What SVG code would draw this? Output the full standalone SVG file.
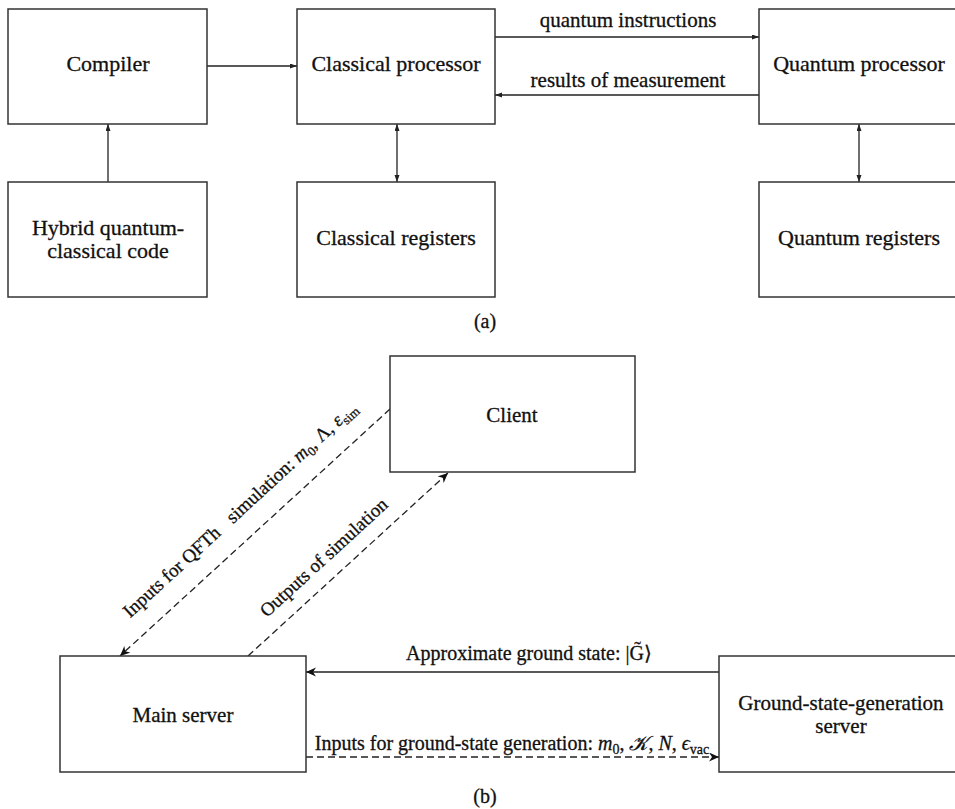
<svg xmlns="http://www.w3.org/2000/svg" width="955" height="809" viewBox="0 0 955 809">
<defs>
<style>
.box{fill:#fff;stroke:#333;stroke-width:1.5}
.t{font-family:"Liberation Serif","Times New Roman",serif;fill:#111;stroke:#111;stroke-width:0.3}
.n{font-size:22px;text-anchor:middle}
.nb{font-size:21px;text-anchor:middle}
.l{font-size:21px;text-anchor:middle}
.b{font-size:20px;text-anchor:middle}
.c{stroke:#222;stroke-width:1.3;fill:none}
.d{stroke-dasharray:7 4}
</style>
<marker id="tri" markerUnits="userSpaceOnUse" markerWidth="9" markerHeight="7" refX="7" refY="2.5" orient="auto-start-reverse">
<path d="M0,0 L7,2.5 L0,5 z" fill="#222"/>
</marker>
<marker id="stealth" markerUnits="userSpaceOnUse" markerWidth="12" markerHeight="10" refX="10" refY="4.5" orient="auto">
<path d="M0,0 L10,4.5 L0,9 L3,4.5 z" fill="#111"/>
</marker>
</defs>
<rect width="955" height="809" fill="#fff"/>

<g id="connectors">
<path class="c" d="M207,66 H297" marker-end="url(#tri)"/>
<path class="c" d="M108,182 V124" marker-end="url(#tri)"/>
<path class="c" d="M397,124 V182" marker-start="url(#tri)" marker-end="url(#tri)"/>
<path class="c" d="M859,124 V182" marker-start="url(#tri)" marker-end="url(#tri)"/>
<path class="c" d="M495,37 H759" marker-end="url(#tri)"/>
<path class="c" d="M759,95 H495" marker-end="url(#tri)"/>
<text class="t l" x="628" y="27">quantum instructions</text>
<text class="t l" x="628" y="87">results of measurement</text>

<path class="c d" d="M390,409 L120,656" stroke-width="1.6" marker-end="url(#stealth)"/>
<path class="c d" d="M248,656 L448,473" stroke-width="1.6" marker-end="url(#stealth)"/>
<path class="c" d="M719,672 H306" stroke-width="1.5" marker-end="url(#stealth)"/>
<path class="c d" d="M306,757 H719" stroke-width="1.5" marker-end="url(#stealth)"/>
<g transform="translate(244,514) rotate(-42.5)">
<text class="t" font-size="19" text-anchor="middle" x="0" y="0">Inputs for QFTh<tspan dx="15">simulation: </tspan><tspan font-style="italic">m</tspan><tspan dy="4" font-size="13">0</tspan><tspan dy="-4">, Λ, </tspan><tspan font-style="italic">ε</tspan><tspan dy="4" font-size="13">sim</tspan></text>
</g>
<g transform="translate(328,562) rotate(-42.5)">
<text class="t" font-size="19" text-anchor="middle" x="0" y="0">Outputs of simulation</text>
</g>
<text class="t b" x="529" y="660">Approximate ground state: |G̃⟩</text>
<text class="t b" x="512" y="750">Inputs for ground-state generation: <tspan font-style="italic">m</tspan><tspan dy="4" font-size="14">0</tspan><tspan dy="-4">, </tspan><tspan font-style="italic">𝒦</tspan>, <tspan font-style="italic">N</tspan>, <tspan font-style="italic">ϵ</tspan><tspan dy="4" font-size="14">vac</tspan></text>
</g>

<g id="compiler"><rect class="box" x="8" y="9" width="199" height="115"/><text class="t n" x="108" y="71">Compiler</text></g>
<g id="classical-processor"><rect class="box" x="297" y="9" width="198" height="115"/><text class="t n" x="396" y="71">Classical processor</text></g>
<g id="quantum-processor"><rect class="box" x="759" y="9" width="200" height="115"/><text class="t n" x="859" y="71">Quantum processor</text></g>
<g id="hybrid-code"><rect class="box" x="8" y="182" width="199" height="115"/><text class="t n" x="108" y="235">Hybrid quantum-</text><text class="t n" x="108" y="258">classical code</text></g>
<g id="classical-registers"><rect class="box" x="297" y="182" width="198" height="115"/><text class="t n" x="396" y="245">Classical registers</text></g>
<g id="quantum-registers"><rect class="box" x="759" y="182" width="200" height="115"/><text class="t n" x="859" y="245">Quantum registers</text></g>
<text class="t b" x="485" y="328">(a)</text>

<g id="client"><rect class="box" x="390" y="356" width="245" height="116"/><text class="t nb" x="512" y="422">Client</text></g>
<g id="main-server"><rect class="box" x="60" y="656" width="246" height="116"/><text class="t nb" x="183" y="722">Main server</text></g>
<g id="ground-state-server"><rect class="box" x="719" y="656" width="240" height="116"/><text class="t nb" x="841" y="710">Ground-state-generation</text><text class="t nb" x="841" y="733">server</text></g>
<text class="t b" x="485" y="803">(b)</text>
</svg>
